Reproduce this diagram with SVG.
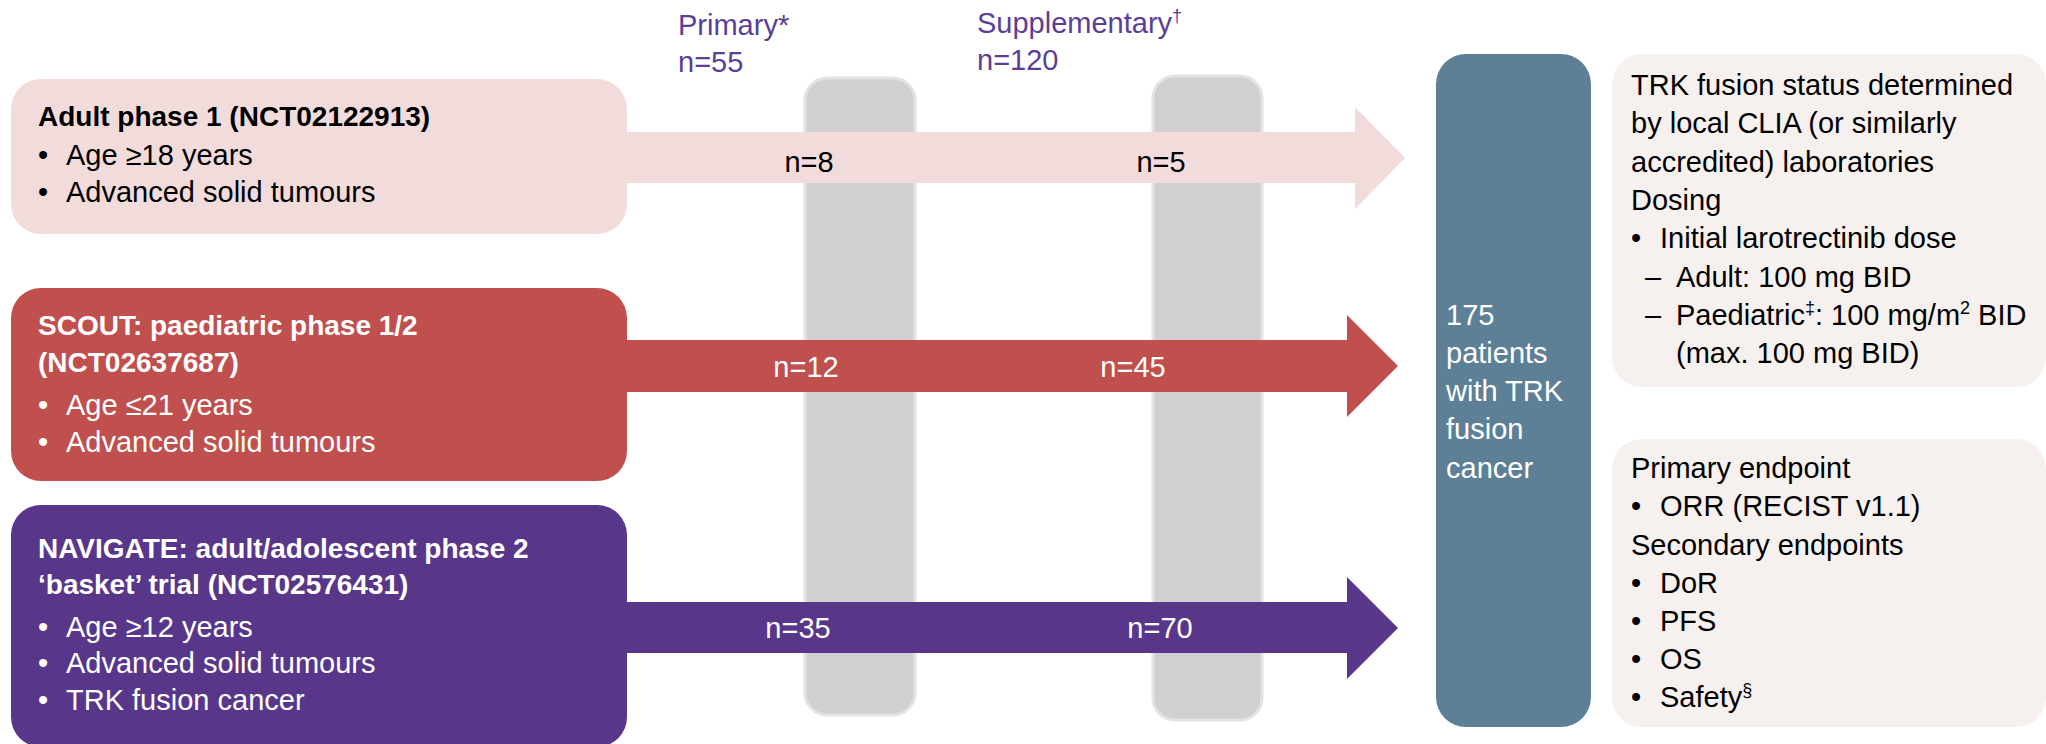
<svg xmlns="http://www.w3.org/2000/svg" width="2046" height="744" viewBox="0 0 2046 744">
<style>
text{font-family:"Liberation Sans",Arial,sans-serif;font-size:29px}
.b{font-weight:bold;font-size:28px}
.w{fill:#FFFFFF}
.k{fill:#000000}
.p{fill:#5B3E96}
.m{text-anchor:middle}
.bar{fill:#D1CFD2;stroke:#E3E2E4;stroke-width:3}
.sup{font-size:18px}
</style>
<rect width="2046" height="744" fill="#FFFFFF"/>
<g id="headers">
<text class="p" x="678" y="35">Primary*</text>
<text class="p" x="678" y="72">n=55</text>
<text class="p" x="977" y="33">Supplementary<tspan class="sup" dy="-11">†</tspan></text>
<text class="p" x="977" y="70">n=120</text>
</g>
<g id="bars">
<rect class="bar" x="805" y="78" width="110" height="637" rx="22"/>
<rect class="bar" x="1153" y="76" width="109" height="644" rx="22"/>
</g>
<g id="connectors">
<polygon fill="#F2DCDB" points="600,132 1355,132 1355,107 1405,158 1355,209 1355,183 600,183"/>
<polygon fill="#C0504D" points="600,340 1347,340 1347,315 1398,366 1347,417 1347,392 600,392"/>
<polygon fill="#58378B" points="600,602 1347,602 1347,577 1398,628 1347,679 1347,653 600,653"/>
<text class="k m" x="809" y="172">n=8</text>
<text class="k m" x="1161" y="172">n=5</text>
<text class="w m" x="806" y="377">n=12</text>
<text class="w m" x="1133" y="377">n=45</text>
<text class="w m" x="798" y="638">n=35</text>
<text class="w m" x="1160" y="638">n=70</text>
</g>
<g id="adult">
<rect x="11" y="79" width="616" height="155" rx="30" fill="#F2DCDB"/>
<text class="k b" x="38" y="126">Adult phase 1 (NCT02122913)</text>
<text class="k" x="38" y="165">•</text><text class="k" x="66" y="165">Age ≥18 years</text>
<text class="k" x="38" y="202">•</text><text class="k" x="66" y="202">Advanced solid tumours</text>
</g>
<g id="scout">
<rect x="11" y="288" width="616" height="193" rx="30" fill="#C0504D"/>
<text class="w b" x="38" y="335">SCOUT: paediatric phase 1/2</text>
<text class="w b" x="38" y="372">(NCT02637687)</text>
<text class="w" x="38" y="415">•</text><text class="w" x="66" y="415">Age ≤21 years</text>
<text class="w" x="38" y="452">•</text><text class="w" x="66" y="452">Advanced solid tumours</text>
</g>
<g id="navigate">
<rect x="11" y="505" width="616" height="242" rx="30" fill="#58378B"/>
<text class="w b" x="38" y="558">NAVIGATE: adult/adolescent phase 2</text>
<text class="w b" x="38" y="594">‘basket’ trial (NCT02576431)</text>
<text class="w" x="38" y="637">•</text><text class="w" x="66" y="637">Age ≥12 years</text>
<text class="w" x="38" y="673">•</text><text class="w" x="66" y="673">Advanced solid tumours</text>
<text class="w" x="38" y="710">•</text><text class="w" x="66" y="710">TRK fusion cancer</text>
</g>
<g id="patients">
<rect x="1436" y="54" width="155" height="673" rx="30" fill="#5E8096"/>
<text class="w" x="1446" y="325">175</text>
<text class="w" x="1446" y="363">patients</text>
<text class="w" x="1446" y="401">with TRK</text>
<text class="w" x="1446" y="439">fusion</text>
<text class="w" x="1446" y="478">cancer</text>
</g>
<g id="dosing">
<rect x="1612" y="54" width="434" height="333" rx="30" fill="#F6F1EF"/>
<text class="k" x="1631" y="95">TRK fusion status determined</text>
<text class="k" x="1631" y="133">by local CLIA (or similarly</text>
<text class="k" x="1631" y="172">accredited) laboratories</text>
<text class="k" x="1631" y="210">Dosing</text>
<text class="k" x="1631" y="248">•</text><text class="k" x="1660" y="248">Initial larotrectinib dose</text>
<text class="k" x="1645" y="287">–</text><text class="k" x="1676" y="287">Adult: 100 mg BID</text>
<text class="k" x="1645" y="325">–</text><text class="k" x="1676" y="325">Paediatric<tspan class="sup" dy="-11">‡</tspan><tspan dy="11">: 100 mg/m</tspan><tspan class="sup" dy="-11">2</tspan><tspan dy="11"> BID</tspan></text>
<text class="k" x="1676" y="363">(max. 100 mg BID)</text>
</g>
<g id="endpoints">
<rect x="1612" y="439" width="434" height="288" rx="30" fill="#F6F1EF"/>
<text class="k" x="1631" y="478">Primary endpoint</text>
<text class="k" x="1631" y="516">•</text><text class="k" x="1660" y="516">ORR (RECIST v1.1)</text>
<text class="k" x="1631" y="555">Secondary endpoints</text>
<text class="k" x="1631" y="593">•</text><text class="k" x="1660" y="593">DoR</text>
<text class="k" x="1631" y="631">•</text><text class="k" x="1660" y="631">PFS</text>
<text class="k" x="1631" y="669">•</text><text class="k" x="1660" y="669">OS</text>
<text class="k" x="1631" y="707">•</text><text class="k" x="1660" y="707">Safety<tspan class="sup" dy="-11">§</tspan></text>
</g>
</svg>
